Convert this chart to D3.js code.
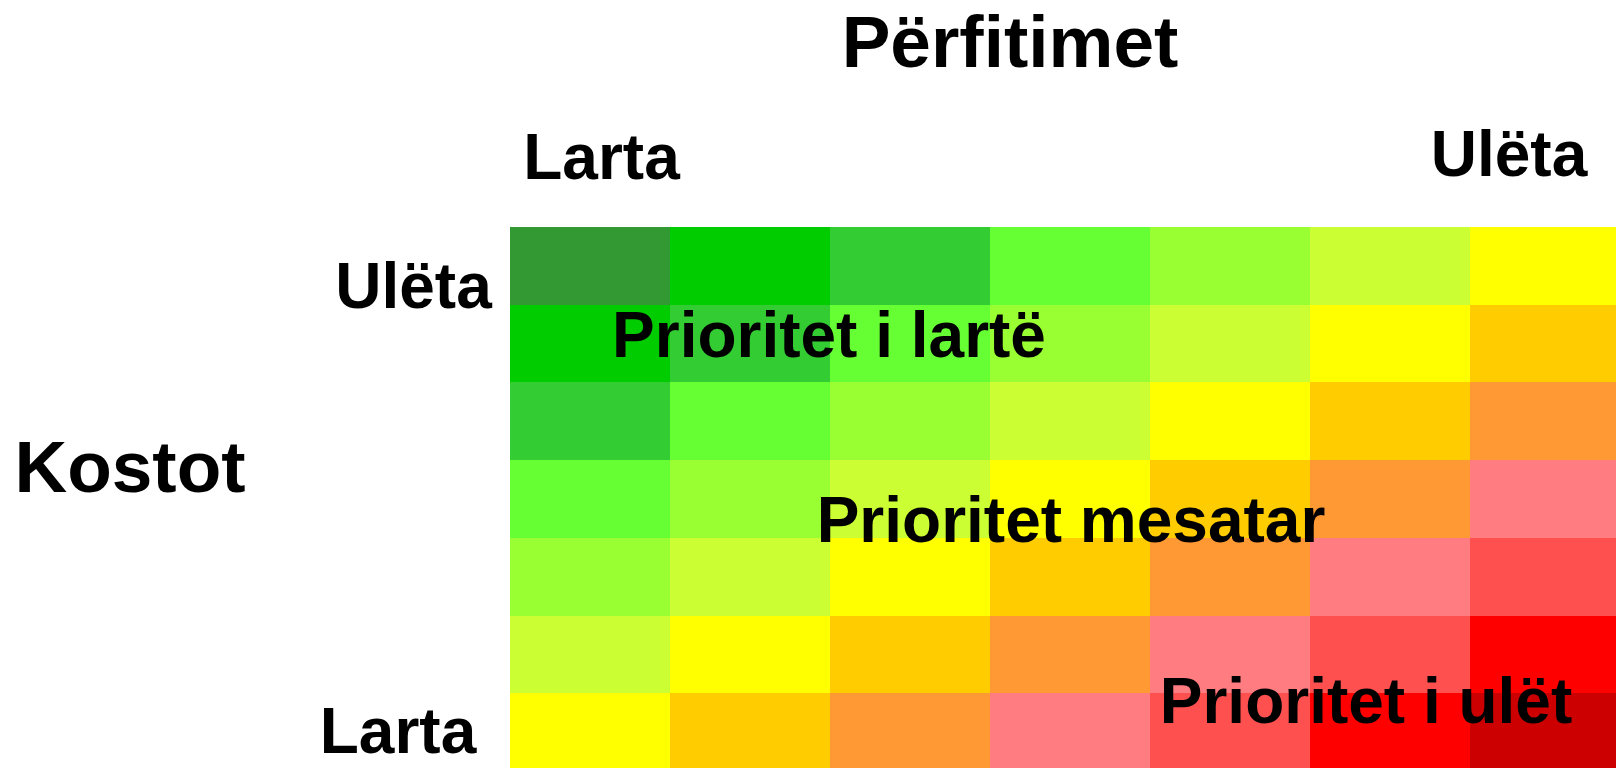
<!DOCTYPE html>
<html>
<head>
<meta charset="utf-8">
<script src="https://cdn.jsdelivr.net/npm/d3@7"></script>
<style>
  html, body { margin: 0; padding: 0; background: #ffffff; }
  svg { display: block; }
  text { font-family: "Liberation Sans", Arial, sans-serif; font-weight: bold; fill: #000; }
</style>
</head>
<body>
<script>
// ---- data ----
const benefitCols = ["B1", "B2", "B3", "B4", "B5", "B6", "B7"]; // Larta -> Ulëta
const costRows = ["C1", "C2", "C3", "C4", "C5", "C6", "C7"];    // Ulëta -> Larta
const priorityScores = [
  [0, 1, 2, 3, 4, 5, 6],
  [1, 2, 3, 4, 5, 6, 7],
  [2, 3, 4, 5, 6, 7, 8],
  [3, 4, 5, 6, 7, 8, 9],
  [4, 5, 6, 7, 8, 9, 10],
  [5, 6, 7, 8, 9, 10, 11],
  [6, 7, 8, 9, 10, 11, 12]
];
const scoreColors = ["#339933", "#00CC00", "#33CC33", "#66FF33", "#99FF33", "#CCFF33",
  "#FFFF00", "#FFCC00", "#FF9933", "#FF7C80", "#FF5050", "#FF0000", "#CC0000"];
const titleX = "Përfitimet";
const titleY = "Kostot";
const benefitEnds = ["Larta", "Ulëta"];
const costEnds = ["Ulëta", "Larta"];
const zoneLabels = ["Prioritet i lartë", "Prioritet mesatar", "Prioritet i ulët"];

// ---- drawing ----
const W = 1616, H = 768;
const svg = d3.select("body").append("svg").attr("width", W).attr("height", H);

const x = d3.scaleBand().domain(benefitCols).range([510, 1630]).padding(0);
const y = d3.scaleBand().domain(costRows).range([227, 771]).padding(0);
const color = d3.scaleOrdinal().domain(d3.range(scoreColors.length)).range(scoreColors);

const cells = [];
priorityScores.forEach((row, ri) => row.forEach((v, ci) => cells.push({ r: costRows[ri], c: benefitCols[ci], v })));

svg.append("g").selectAll("rect").data(cells).join("rect")
  .attr("x", d => x(d.c))
  .attr("y", d => y(d.r))
  .attr("width", x.bandwidth() + 0.5)
  .attr("height", y.bandwidth() + 0.5)
  .attr("fill", d => color(d.v))
  .attr("shape-rendering", "crispEdges");

// titles
svg.append("text").attr("x", 1010).attr("y", 67).attr("text-anchor", "middle")
  .style("font-size", "73px").text(titleX);
svg.append("text").attr("x", 130).attr("y", 492).attr("text-anchor", "middle")
  .style("font-size", "73px").text(titleY);

// benefit end labels
svg.append("text").attr("x", 601.5).attr("y", 179).attr("text-anchor", "middle")
  .style("font-size", "64px").text(benefitEnds[0]);
svg.append("text").attr("x", 1509).attr("y", 176).attr("text-anchor", "middle")
  .style("font-size", "64px").text(benefitEnds[1]);

// cost end labels
svg.append("text").attr("x", 413.5).attr("y", 308).attr("text-anchor", "middle")
  .style("font-size", "64px").text(costEnds[0]);
svg.append("text").attr("x", 398).attr("y", 753).attr("text-anchor", "middle")
  .style("font-size", "64px").text(costEnds[1]);

// zone labels
const zonePos = [[829, 357], [1071, 542], [1366, 723]];
zoneLabels.forEach((t, i) => {
  svg.append("text").attr("x", zonePos[i][0]).attr("y", zonePos[i][1])
    .attr("text-anchor", "middle").style("font-size", "64px").text(t);
});
</script>
</body>
</html>
